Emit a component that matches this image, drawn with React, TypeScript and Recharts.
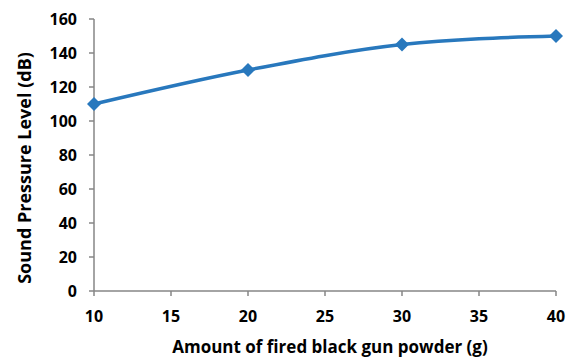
import React from 'react';
import { LineChart, Line, XAxis, YAxis, Label } from 'recharts';

const powderGrams = [10, 20, 30, 40];
const soundLevelDb = [110, 130, 145, 150];
const xTicks = [10, 15, 20, 25, 30, 35, 40];
const yTicks = [0, 20, 40, 60, 80, 100, 120, 140, 160];

const data = powderGrams.map((g, i) => ({ g, db: soundLevelDb[i] }));

const AXIS = '#868686';
const BLUE = '#2878BD';
const FONT = '"Open Sans", "Liberation Sans", sans-serif';

const Diamond = (props: any) => {
  const { cx, cy } = props;
  if (cx == null || cy == null) return null;
  const r = 7;
  return (
    <path
      d={`M${cx},${cy - r} L${cx + r},${cy} L${cx},${cy + r} L${cx - r},${cy} Z`}
      fill={BLUE}
    />
  );
};

// axis titles sit a little off the plot centre, so place them explicitly
const XTitle = () => (
  <text x={330} y={353} textAnchor="middle" fill="#000" fontSize={17} fontWeight={700}>
    Amount of fired black gun powder (g)
  </text>
);

const YTitle = () => (
  <text
    x={0}
    y={0}
    transform="translate(31,168) rotate(-90)"
    textAnchor="middle"
    fill="#000"
    fontSize={18}
    fontWeight={700}
  >
    Sound Pressure Level (dB)
  </text>
);

export default function App() {
  return (
    <div style={{ width: 566, height: 358, background: '#fff' }}>
      <style>{'body{margin:0}'}</style>
      <LineChart
        width={566}
        height={358}
        data={data}
        margin={{ top: 19, right: 10, left: 0, bottom: 0 }}
        style={{ fontFamily: FONT }}
      >
        <XAxis
          dataKey="g"
          type="number"
          domain={[10, 40]}
          ticks={xTicks}
          height={67}
          stroke={AXIS}
          strokeWidth={1.5}
          tickSize={5}
          tickMargin={15}
          tick={{ fill: '#000', fontSize: 16, fontWeight: 700 }}
        >
          <Label content={<XTitle />} />
        </XAxis>
        <YAxis
          type="number"
          domain={[0, 160]}
          ticks={yTicks}
          width={94}
          stroke={AXIS}
          strokeWidth={1.5}
          tickSize={5}
          tickMargin={12}
          tick={{ fill: '#000', fontSize: 16, fontWeight: 700 }}
        >
          <Label content={<YTitle />} />
        </YAxis>
        <Line
          type="monotone"
          dataKey="db"
          stroke={BLUE}
          strokeWidth={3.5}
          dot={<Diamond />}
          activeDot={false}
          isAnimationActive={false}
        />
      </LineChart>
    </div>
  );
}
